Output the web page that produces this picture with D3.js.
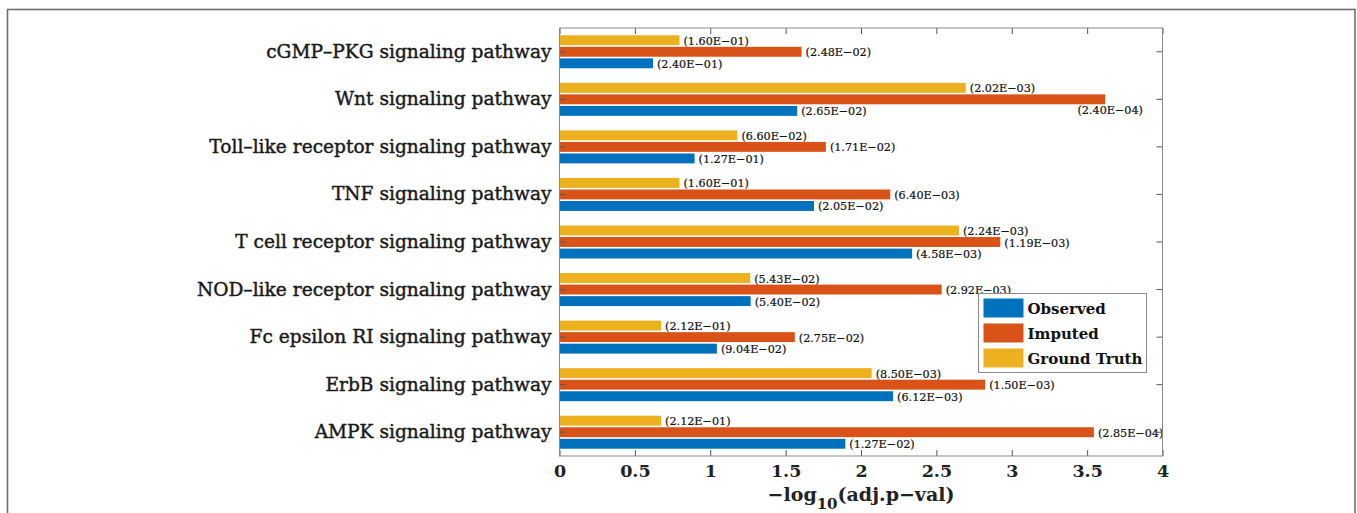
<!DOCTYPE html>
<html>
  <head>
    <title>Pathway enrichment bar chart</title>
    <script src="https://d3js.org/d3.v7.min.js"></script>
    <style>
      body { margin: 0; background: #fff; }
      text { font-family: "DejaVu Serif", "Liberation Serif", serif; }
      .frame { fill: none; stroke: #8a8a8a; stroke-width: 1; }
    </style>
  </head>
  <body>
    <svg width="1357" height="513"></svg>
    <script>
      // Data (values = -log10 of adjusted p-value)
      const categories = [
        "cGMP–PKG signaling pathway",
        "Wnt signaling pathway",
        "Toll–like receptor signaling pathway",
        "TNF signaling pathway",
        "T cell receptor signaling pathway",
        "NOD–like receptor signaling pathway",
        "Fc epsilon RI signaling pathway",
        "ErbB signaling pathway",
        "AMPK signaling pathway"
      ];
      const seriesNames = ["Observed", "Imputed", "Ground Truth"];
      const observed    = [0.620, 1.577, 0.896, 1.688, 2.339, 1.268, 1.044, 2.213, 1.896];
      const imputed     = [1.606, 3.620, 1.767, 2.194, 2.924, 2.535, 1.561, 2.824, 3.545];
      const groundTruth = [0.796, 2.695, 1.180, 0.796, 2.650, 1.265, 0.674, 2.071, 0.674];
      const observedLabels    = ["2.40E−01", "2.65E−02", "1.27E−01", "2.05E−02", "4.58E−03", "5.40E−02", "9.04E−02", "6.12E−03", "1.27E−02"];
      const imputedLabels     = ["2.48E−02", "2.40E−04", "1.71E−02", "6.40E−03", "1.19E−03", "2.92E−03", "2.75E−02", "1.50E−03", "2.85E−04"];
      const groundTruthLabels = ["1.60E−01", "2.02E−03", "6.60E−02", "1.60E−01", "2.24E−03", "5.43E−02", "2.12E−01", "8.50E−03", "2.12E−01"];
      const xTicks = [0, 0.5, 1, 1.5, 2, 2.5, 3, 3.5, 4];

      const colors = { "Observed": "#0072BD", "Imputed": "#D95319", "Ground Truth": "#EDB120" };

      // layout
      const plot = { left: 559.5, right: 1162.5, top: 28, bottom: 456 };

      const svg = d3.select("svg");

      // outer figure frame
      svg.append("rect")
        .attr("x", 7.5).attr("y", 9.5)
        .attr("width", 1347.5).attr("height", 520)
        .attr("fill", "none").attr("stroke", "#6e6e6e").attr("stroke-width", 1.6);

      const x = d3.scaleLinear().domain([0, 4]).range([plot.left, plot.right]);
      const y = d3.scaleBand().domain(categories).range([plot.top, plot.bottom]).padding(0);
      // ground truth on top, then imputed, then observed
      const sub = d3.scaleBand().domain(["Ground Truth", "Imputed", "Observed"])
        .range([-16.5, 16.5]).paddingInner(0.14);

      const rows = [];
      categories.forEach((c, i) => {
        rows.push({ cat: c, series: "Observed", value: observed[i], label: observedLabels[i] });
        rows.push({ cat: c, series: "Imputed", value: imputed[i], label: imputedLabels[i] });
        rows.push({ cat: c, series: "Ground Truth", value: groundTruth[i], label: groundTruthLabels[i] });
      });

      const cy = d => y(d.cat) + y.bandwidth() / 2;

      // bars
      svg.append("g").selectAll("rect")
        .data(rows)
        .join("rect")
        .attr("x", x(0))
        .attr("y", d => cy(d) + sub(d.series))
        .attr("width", d => x(d.value) - x(0))
        .attr("height", sub.bandwidth())
        .attr("fill", d => colors[d.series]);

      // value labels (the Wnt imputed one sits under its bar end in the original)
      svg.append("g").selectAll("text")
        .data(rows)
        .join("text")
        .attr("font-size", 11.2)
        .attr("fill", "#111")
        .attr("stroke", "#111").attr("stroke-width", 0.2)
        .attr("dominant-baseline", "central")
        .each(function (d) {
          const moved = d.cat === "Wnt signaling pathway" && d.series === "Imputed";
          const t = d3.select(this);
          if (moved) {
            t.attr("x", x(d.value) + 5).attr("y", cy(d) + sub(d.series) + sub.bandwidth() / 2 + 11)
              .attr("text-anchor", "middle");
          } else {
            t.attr("x", x(d.value) + 4).attr("y", cy(d) + sub(d.series) + sub.bandwidth() / 2 + 1)
              .attr("text-anchor", "start");
          }
        })
        .text(d => "(" + d.label + ")");

      // axes, ticks pointing inward
      const bottomAxis = svg.append("g")
        .attr("transform", `translate(0,${plot.bottom})`)
        .call(d3.axisBottom(x).tickValues(xTicks).tickFormat(d3.format("")).tickSizeInner(-6).tickSizeOuter(0).tickPadding(9));
      bottomAxis.selectAll("text")
        .attr("font-size", 17.5).attr("font-weight", "bold").attr("fill", "#222")
        .style("font-family", "DejaVu Serif");

      svg.append("g")
        .attr("transform", `translate(0,${plot.top})`)
        .call(d3.axisTop(x).tickValues(xTicks).tickFormat("").tickSizeInner(-6).tickSizeOuter(0));

      const leftAxis = svg.append("g")
        .attr("transform", `translate(${plot.left},0)`)
        .call(d3.axisLeft(y).tickSizeInner(-6).tickSizeOuter(0).tickPadding(8));
      leftAxis.selectAll("text")
        .attr("font-size", 18.6).attr("fill", "#1a1a1a")
        .attr("stroke", "#1a1a1a").attr("stroke-width", 0.45)
        .style("font-family", "DejaVu Serif");

      svg.append("g")
        .attr("transform", `translate(${plot.right},0)`)
        .call(d3.axisRight(y).tickFormat("").tickSizeInner(-6).tickSizeOuter(0));

      svg.selectAll(".domain").remove();
      svg.selectAll(".tick line").attr("stroke", "#555");

      svg.append("rect").attr("class", "frame")
        .attr("x", plot.left).attr("y", plot.top)
        .attr("width", plot.right - plot.left).attr("height", plot.bottom - plot.top);

      // x-axis title
      const title = svg.append("text")
        .attr("x", (plot.left + plot.right) / 2)
        .attr("y", 501)
        .attr("text-anchor", "middle")
        .attr("font-size", 19).attr("font-weight", "bold").attr("fill", "#222");
      title.append("tspan").text("−log");
      title.append("tspan").attr("font-size", 15).attr("dy", 8).text("10");
      title.append("tspan").attr("dy", -8).text("(adj.p−val)");

      // legend
      const legend = svg.append("g").attr("transform", "translate(978.5,293.5)");
      legend.append("rect")
        .attr("width", 168).attr("height", 79)
        .attr("fill", "#fff").attr("stroke", "#8a8a8a");
      const item = legend.selectAll("g.item")
        .data(seriesNames)
        .join("g").attr("class", "item")
        .attr("transform", (d, i) => `translate(5,${5 + i * 25})`);
      item.append("rect")
        .attr("width", 40).attr("height", 19)
        .attr("fill", d => colors[d]);
      item.append("text")
        .attr("x", 44).attr("y", 10)
        .attr("dominant-baseline", "central")
        .attr("font-size", 15).attr("font-weight", "bold").attr("fill", "#111")
        .text(d => d);
    </script>
  </body>
</html>
